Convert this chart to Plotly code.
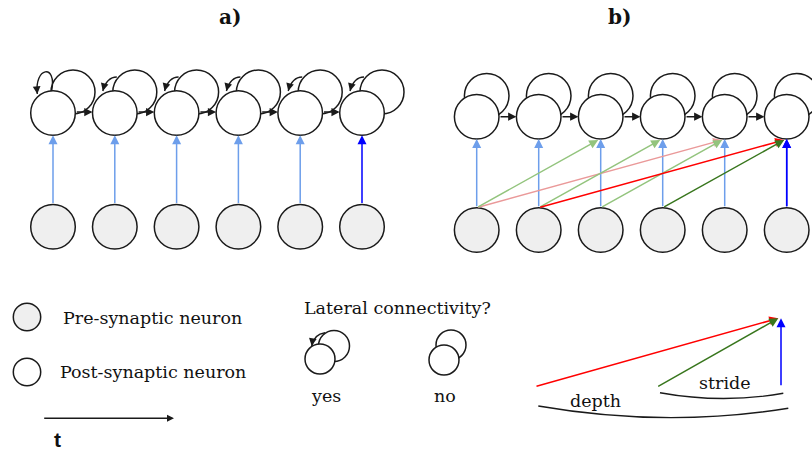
import plotly.graph_objects as go
import math

# ---------------- data ----------------
neurons = [1, 2, 3, 4, 5, 6]            # time steps
direct_src = [1, 2, 3, 4, 5, 6]         # pre(t) -> post(t)
stride_src = [1, 2, 3, 4]               # pre(t) -> post(t+2)
stride_tgt = [3, 4, 5, 6]
depth_src = [1, 2]                      # pre(t) -> post(t+4)
depth_tgt = [5, 6]
target = 6                              # highlighted post-synaptic neuron
panel_titles = ["a)", "b)"]
legend_labels = ["Pre-synaptic neuron", "Post-synaptic neuron"]
lateral_title = "Lateral connectivity?"
lateral_labels = ["yes", "no"]
scheme_labels = ["stride", "depth"]
time_label = "t"

# ---------------- styles ----------------
W, H = 812, 452
R = 22.3
INK = "#1a1a1a"
PRE_FILL = "#efefef"
C_LBLUE, C_BLUE = "#6d9eeb", "#0000ff"
C_LGREEN, C_DGREEN = "#93c47d", "#38761d"
C_PINK, C_RED = "#ea9999", "#ff0000"
SERIF = "DejaVu Serif"

PA = dict(x0=53.0, dx=61.8, ypost=113.0, ypre=226.7, loop_dx=20, loop_dy=-21)
PB = dict(x0=476.7, dx=62.0, ypost=116.7, ypre=230.0, loop_dx=10, loop_dy=-21)


def cx(p, i):
    return p["x0"] + (i - 1) * p["dx"]


shapes = []
annotations = []


def circle(x, y, r, fill, width=1.5):
    shapes.append(dict(type="circle", xref="x", yref="y",
                       x0=x - r, x1=x + r, y0=y - r, y1=y + r,
                       line=dict(color=INK, width=width), fillcolor=fill))


def path(d, color=INK, width=1.4):
    shapes.append(dict(type="path", xref="x", yref="y", path=d,
                       line=dict(color=color, width=width)))


def arrow(x0, y0, x1, y1, color=INK, width=1.4, size=1.0, standoff=0):
    annotations.append(dict(x=x1, y=y1, ax=x0, ay=y0, xref="x", yref="y",
                            axref="x", ayref="y", text="", showarrow=True,
                            arrowhead=2, arrowsize=size, arrowwidth=width,
                            arrowcolor=color, standoff=standoff))


def head(tx, ty, fx, fy, color=INK, width=1.4):
    # arrow head at (tx,ty) pointing away from (fx,fy)
    dx, dy = tx - fx, ty - fy
    L = math.hypot(dx, dy) or 1
    arrow(tx - dx / L * 7, ty - dy / L * 7, tx, ty, color, width, 1.1)


def text(x, y, s, size=17, bold=False, family=SERIF, xanchor="center"):
    if bold:
        s = "<b>" + s + "</b>"
    annotations.append(dict(x=x, y=y, xref="x", yref="y", text=s, showarrow=False,
                            xanchor=xanchor, yanchor="middle",
                            font=dict(family=family, size=size, color="#111")))


AS = 1.2  # arrow head size

# ---------------- panel a ----------------
for i in neurons:  # lateral self-loops (behind)
    circle(cx(PA, i) + PA["loop_dx"], PA["ypost"] + PA["loop_dy"], 22.0, "rgba(0,0,0,0)")
for i in neurons:
    circle(cx(PA, i), PA["ypost"], R, "white")
    circle(cx(PA, i), PA["ypre"], R, PRE_FILL)
for i in neurons:  # small recurrent arrows
    c, y = cx(PA, i), PA["ypost"]
    if i == 1:
        path(f"M {c-1.3},{y-22.3} C {c+4},{y-50} {c-19},{y-46} {c-15.7},{y-19}")
        head(c - 15.7, y - 19, c - 16.3, y - 26)
    else:
        path(f"M {c+2},{y-36} Q {c-8},{y-36} {c-12},{y-22}")
        head(c - 12, y - 22, c - 10.5, y - 28)
for i in neurons[:-1]:
    arrow(cx(PA, i) + R, PA["ypost"] - 1, cx(PA, i + 1) - R, PA["ypost"] - 1, INK, 1.5, 1.1)
for i in direct_src:
    col = C_BLUE if i == target else C_LBLUE
    arrow(cx(PA, i), PA["ypre"] - R, cx(PA, i), PA["ypost"] + R, col, 1.5, AS)

# ---------------- panel b ----------------
for i in neurons:
    circle(cx(PB, i) + PB["loop_dx"], PB["ypost"] + PB["loop_dy"], R, "rgba(0,0,0,0)")
for i in neurons:
    circle(cx(PB, i), PB["ypost"], R, "white")
    circle(cx(PB, i), PB["ypre"], R, PRE_FILL)
for i in neurons[:-1]:
    arrow(cx(PB, i) + R, PB["ypost"], cx(PB, i + 1) - R, PB["ypost"], INK, 1.5, 1.1)
for i in direct_src:
    col = C_BLUE if i == target else C_LBLUE
    arrow(cx(PB, i), PB["ypre"] - R, cx(PB, i), PB["ypost"] + R, col, 1.5, AS)
conns = []
for s, t in zip(depth_src, depth_tgt):
    conns.append((s, t, C_RED if t == target else C_PINK, t == target))
for s, t in zip(stride_src, stride_tgt):
    conns.append((s, t, C_DGREEN if t == target else C_LGREEN, t == target))
conns.sort(key=lambda c: c[3])
for s, t, col, _ in conns:
    arrow(cx(PB, s), PB["ypre"] - R, cx(PB, t) - 2.5, PB["ypost"] + R + 1, col, 1.5, AS)
# highlighted direct arrow on top
arrow(cx(PB, target), PB["ypre"] - R, cx(PB, target), PB["ypost"] + R, C_BLUE, 1.5, AS)

# ---------------- titles ----------------
text(230, 17, panel_titles[0], 20, True)
text(619, 17, panel_titles[1], 20, True)

# ---------------- legend ----------------
circle(27, 317, 13.7, PRE_FILL)
circle(27, 372, 13.7, "white")
text(61, 318, legend_labels[0], 17.5, xanchor="left")
text(58, 372, legend_labels[1], 17.5, xanchor="left")
arrow(42.7, 418.3, 174, 418.3, INK, 1.4, 1.0)
text(57.5, 439, time_label, 21, True, "Liberation Sans")

# lateral connectivity
text(301.7, 308, lateral_title, 17.5, xanchor="left")
circle(334, 346, 15.5, "rgba(0,0,0,0)")
circle(320, 359, 15, "white")
path("M 325,332.7 Q 314,334 311.7,346")
head(311.7, 346, 312.6, 340)
circle(451, 345, 15, "rgba(0,0,0,0)")
circle(444, 360, 15, "white")
text(326, 396, lateral_labels[0], 17.5)
text(444.5, 396, lateral_labels[1], 17.5)

# stride / depth scheme
arrow(535, 386.7, 778.3, 318.3, C_RED, 1.5, AS)
arrow(656.7, 387.3, 778.3, 318.3, C_DGREEN, 1.5, AS)
arrow(781, 386.7, 781, 318.3, C_BLUE, 1.5, AS)
path("M 660,392.7 Q 722,404 783.3,393.3")
path("M 538.3,406 Q 665,428 788.3,408.3")
text(725, 383, scheme_labels[0], 17.5)
text(595, 401, scheme_labels[1], 17.5)

fig = go.Figure()
fig.update_layout(
    width=W, height=H, margin=dict(l=0, r=0, t=0, b=0),
    paper_bgcolor="white", plot_bgcolor="white",
    xaxis=dict(range=[0, W], visible=False, fixedrange=True),
    yaxis=dict(range=[H, 0], visible=False, fixedrange=True),
    shapes=shapes, annotations=annotations, showlegend=False,
)
fig.write_html("out.html", config={"displayModeBar": False},
               post_script="document.body.style.margin='0';")
